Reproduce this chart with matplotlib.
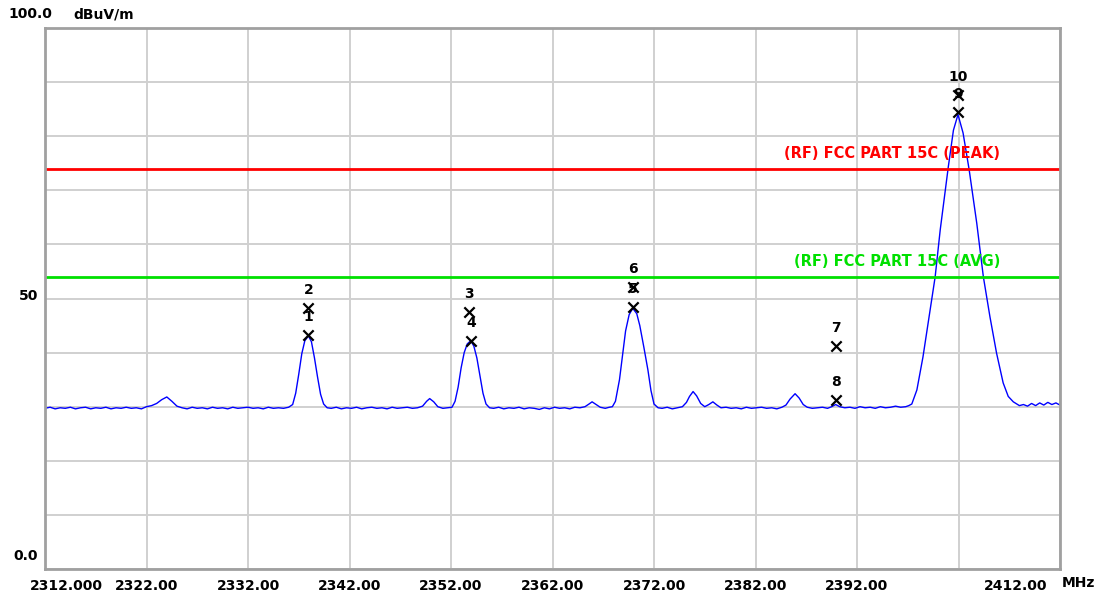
import matplotlib
matplotlib.use('Agg')
import matplotlib.pyplot as plt
from matplotlib.transforms import ScaledTranslation

# spectrum trace (MHz, dBuV/m)
trace_freq = [
    2312.0, 2312.5, 2313.0, 2313.5, 2314.0, 2314.5, 2315.0, 2315.5, 2316.0, 2316.5,
    2317.0, 2317.5, 2318.0, 2318.5, 2319.0, 2319.5, 2320.0, 2320.5, 2321.0, 2321.5,
    2322.0, 2322.5, 2323.0, 2323.5, 2324.0, 2324.5, 2325.0,
    2325.5, 2326.0, 2326.5, 2327.0, 2327.5, 2328.0, 2328.5, 2329.0, 2329.5, 2330.0,
    2330.5, 2331.0, 2331.5, 2332.0, 2332.5, 2333.0, 2333.5, 2334.0, 2334.5, 2335.0,
    2335.5, 2336.0,
    2336.4, 2336.7, 2337.0, 2337.3, 2337.6, 2337.95, 2338.25, 2338.55, 2338.85, 2339.15,
    2339.45, 2339.8,
    2340.2, 2340.7, 2341.2, 2341.7, 2342.2, 2342.7, 2343.2, 2343.7, 2344.2, 2344.7,
    2345.2, 2345.7, 2346.2, 2346.7, 2347.2, 2347.7, 2348.2, 2348.7,
    2349.2, 2349.6, 2349.9, 2350.3, 2350.7,
    2351.2, 2351.7, 2352.1,
    2352.4, 2352.7, 2353.0, 2353.3, 2353.6, 2353.95, 2354.25, 2354.55, 2354.85, 2355.15,
    2355.45, 2355.8,
    2356.2, 2356.7, 2357.2, 2357.7, 2358.2, 2358.7, 2359.2, 2359.7, 2360.2, 2360.7,
    2361.2, 2361.7, 2362.2, 2362.7, 2363.2, 2363.7, 2364.2, 2364.7, 2365.2,
    2365.6, 2365.9, 2366.3, 2366.7, 2367.2, 2367.6,
    2367.9, 2368.2, 2368.6, 2368.9, 2369.2, 2369.55, 2369.9, 2370.3, 2370.6, 2371.0,
    2371.4, 2371.7, 2372.0, 2372.4,
    2372.8, 2373.3, 2373.8, 2374.3, 2374.8,
    2375.2, 2375.5, 2375.85, 2376.2, 2376.6, 2377.0, 2377.4, 2377.8, 2378.2, 2378.6,
    2379.1, 2379.6, 2380.1, 2380.6, 2381.1, 2381.6, 2382.1, 2382.6, 2383.1, 2383.6,
    2384.1, 2384.6, 2385.0,
    2385.4, 2385.9, 2386.3, 2386.7, 2387.1,
    2387.6, 2388.1, 2388.6, 2389.1, 2389.5, 2389.9, 2390.3, 2390.8, 2391.3, 2391.8,
    2392.3, 2392.8, 2393.3, 2393.8, 2394.3, 2394.8, 2395.3, 2395.8, 2396.3, 2396.8,
    2397.1,
    2397.4, 2397.9, 2398.5, 2399.2, 2399.7, 2400.2, 2400.7, 2401.0, 2401.5, 2401.95,
    2402.45, 2403.05, 2403.8, 2404.45, 2405.1, 2405.75, 2406.4, 2406.9, 2407.4, 2408.0,
    2408.4, 2408.8, 2409.2, 2409.6, 2410.0, 2410.4, 2410.8, 2411.2, 2411.6, 2412.0,
]
trace_level = [
    29.7, 29.9, 29.6, 29.8, 29.7, 29.9, 29.6, 29.8, 29.9, 29.6,
    29.8, 29.7, 29.9, 29.6, 29.8, 29.7, 29.9, 29.7, 29.8, 29.6,
    30.0, 30.2, 30.6, 31.3, 31.8, 31.0, 30.1,
    29.8, 29.6, 29.9, 29.7, 29.8, 29.6, 29.9, 29.7, 29.8, 29.6,
    29.9, 29.7, 29.8, 29.9, 29.7, 29.8, 29.6, 29.9, 29.7, 29.8,
    29.7, 29.9,
    30.4, 32.5, 36.0, 39.8, 42.2, 43.1, 42.0, 39.0, 35.5, 32.3,
    30.5, 29.8,
    29.7, 29.9, 29.6, 29.8, 29.7, 29.9, 29.6, 29.8, 29.9, 29.7,
    29.8, 29.6, 29.9, 29.7, 29.8, 29.9, 29.7, 29.8,
    30.1, 31.0, 31.5, 30.9, 30.0,
    29.7, 29.8, 29.9,
    31.0, 33.6, 37.2, 40.0, 41.6, 42.2, 41.2, 39.0, 35.8, 32.5,
    30.5, 29.8,
    29.7, 29.9, 29.6, 29.8, 29.7, 29.9, 29.6, 29.8, 29.7, 29.5,
    29.8, 29.6, 29.9, 29.7, 29.8, 29.6, 29.9, 29.8, 30.0,
    30.5, 30.9, 30.4, 29.9, 29.7, 29.9,
    30.0, 31.0, 35.0, 39.5, 44.0, 47.0, 48.2, 47.2, 45.0, 41.0,
    36.8, 33.0, 30.5, 29.8,
    29.7, 29.9, 29.6, 29.8, 30.0,
    30.8, 31.9, 32.8, 32.0, 30.6, 30.0, 30.4, 30.9, 30.3, 29.8,
    29.9, 29.7, 29.8, 29.6, 29.9, 29.7, 29.8, 29.9, 29.7, 29.8,
    29.6, 29.9, 30.3,
    31.4, 32.4, 31.6, 30.4, 29.9,
    29.7, 29.8, 29.9, 29.7, 30.0, 30.4, 30.0, 29.8, 29.9, 29.7,
    30.0, 29.8, 29.9, 29.7, 30.0, 29.8, 29.9, 30.1, 29.9, 30.0,
    30.2,
    30.5, 33.1, 39.2, 47.9, 54.0, 62.7, 70.1, 74.4, 81.1, 84.0,
    80.6, 73.8, 63.9, 54.0, 46.6, 39.9, 34.4, 31.9, 30.9, 30.2,
    30.4, 30.1, 30.6, 30.2, 30.7, 30.3, 30.8, 30.4, 30.7, 30.3,
]

# marker readings
marker_no = ['1', '2', '3', '4', '5', '6', '7', '8', '9', '10']
marker_freq = [2337.95, 2337.95, 2353.8, 2353.95, 2369.9, 2369.9, 2389.9, 2389.9, 2401.95, 2401.95]
marker_level = [43.2, 48.2, 47.5, 42.1, 48.4, 52.1, 41.2, 31.2, 84.5, 87.6]

# limit lines
limit_names = ['(RF) FCC PART 15C (PEAK)', '(RF) FCC PART 15C (AVG)']
limit_levels = [74.0, 54.0]
limit_colors = ['#ff0000', '#00e000']

x_ticks = list(range(2312, 2413, 10))
# the printout skips the 2402 label
x_ticklabels = ['2312.000', '2322.00', '2332.00', '2342.00', '2352.00', '2362.00',
                '2372.00', '2382.00', '2392.00', '', '2412.00']

fig = plt.figure(figsize=(11.03, 5.94), dpi=100)
ax = fig.add_axes([45 / 1103, 25 / 594, 1015 / 1103, 541 / 594])

ax.set_xlim(2312, 2412)
ax.set_ylim(0, 100)

ax.set_xticks(x_ticks)
ax.set_xticklabels(x_ticklabels, fontsize=10, fontweight='bold')
ax.set_yticks(range(0, 101, 10))
ax.set_yticklabels(['0.0', '', '', '', '', '50', '', '', '', '', ''], fontsize=10, fontweight='bold')
ax.tick_params(length=0, pad=5)
ax.tick_params(axis='x', pad=7)
ax.grid(True, color='#d0d0d0', linewidth=1.4)
ax.set_axisbelow(True)
for s in ax.spines.values():
    s.set_color('#a0a0a0')
    s.set_linewidth(2)

# nudge tick labels the way the analyser printout does
def shift(lbl, dx, dy):
    lbl.set_transform(lbl.get_transform() + ScaledTranslation(dx / 100, dy / 100, fig.dpi_scale_trans))

xl = ax.get_xticklabels()
shift(xl[0], 21, 0)
shift(xl[-1], -44, 0)
yl = ax.get_yticklabels()
shift(yl[0], 0, 14)
shift(yl[5], 0, 4)

ax.plot(trace_freq, trace_level, color='#0000ff', linewidth=1)

for name, lev, col in zip(limit_names, limit_levels, limit_colors):
    ax.axhline(lev, color=col, linewidth=2)
    ax.annotate(name, (2406.1, lev), xytext=(0, 11), textcoords='offset points',
                ha='right', va='center', color=col, fontsize=10.5, fontweight='bold')

ax.scatter(marker_freq, marker_level, marker='x', s=55, color='black', linewidths=1.6, zorder=5)
for n, f, lev in zip(marker_no, marker_freq, marker_level):
    ax.annotate(n, (f, lev), xytext=(0, 13), textcoords='offset points',
                ha='center', va='center', fontsize=10, fontweight='bold', color='black')

fig.text(8 / 1103, 1 - 14 / 594, '100.0', ha='left', va='center', fontsize=10, fontweight='bold')
fig.text(73 / 1103, 1 - 14 / 594, 'dBuV/m', ha='left', va='center', fontsize=10, fontweight='bold')
fig.text(1062 / 1103, 1 - 583 / 594, 'MHz', ha='left', va='center', fontsize=10, fontweight='bold')

fig.savefig('out.png', dpi=100)
